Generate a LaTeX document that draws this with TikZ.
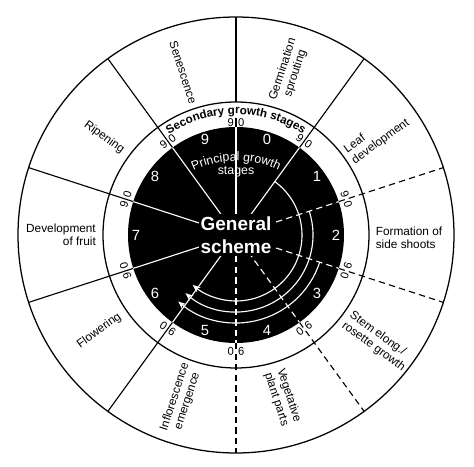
\documentclass[tikz,border=0pt]{standalone}
\usepackage{fontspec}
\setmainfont{Liberation Sans}
\usepackage{tikz}
\usetikzlibrary{shapes,arrows.meta,positioning,calc,decorations.text}

\tikzset{
  ring/.style={line width=0.9pt},
  spoke/.style={line width=0.8pt},
  gap/.style={dash pattern=on 4.5pt off 3pt},
  stagetext/.style={font=\fontsize{8.4}{9.4}\selectfont,inner sep=1pt},
  stagenum/.style={text=white,font=\fontsize{10.5}{12}\selectfont},
  subnum/.style={font=\fontsize{8}{9}\selectfont,inner sep=0pt},
  turn/.style={white,line width=0.8pt,-{Stealth[length=5.5pt,width=4.5pt]}}
}

\begin{document}
\begin{tikzpicture}[x=0.025cm,y=0.025cm]
\useasboundingbox (-236,-232) rectangle (238,235);
\fill[black] (0,0) circle (108);
\draw[ring] (0,0) circle (218);
\draw[ring] (0,0) circle (133);

\foreach \a/\s [count=\i] in {54/solid,18/gap,-18/gap,-54/gap,-90/gap,-126/solid,-162/solid,162/solid,126/solid}{
  \draw[spoke,\s] (\a:108) -- (\a:218);
  \draw[spoke,white,\s] (0,0) -- (\a:108);
  \node[subnum,rotate=\a-90] (sub\i) at (\a:116) {9\hspace{3pt}0};
}
\draw[spoke] (90:133) -- (90:218);
\draw[spoke] (90:108) -- (90:117);
\draw[spoke,white] (0,0) -- (90:108);
\node[subnum] (sub0) at (90:112.5) {9\hspace{3pt}0};

\draw[turn] (54:66) arc[start angle=54,end angle=-131,radius=66];
\draw[turn] (18:77) arc[start angle=18,end angle=-131,radius=77];
\draw[turn] (-18:88) arc[start angle=-18,end angle=-131,radius=88];

\node[fill=black,text=white,align=center,inner sep=1.5pt,
  font=\bfseries\fontsize{13.5}{16.5}\selectfont] (gen) at (0,0) {General\\scheme};

\foreach \n/\a in {0/72,1/36,2/0,3/-36,4/-72,5/-108,6/-144,7/180,8/144,9/108}
  \node[stagenum] (p\n) at (\a:100) {\n};

\path[decorate,decoration={text along path,text align=center,
  text={|\color{white}\fontsize{8.8}{10}\selectfont|Principal growth}}]
  ($(0,-27)+(122:101)$) arc[start angle=122,end angle=58,radius=101];
\node[text=white,font=\fontsize{8.8}{10}\selectfont,inner sep=0pt] (stg) at (90:63) {stages};
\path[decorate,decoration={text along path,text align=center,
  text={|\bfseries\fontsize{8.3}{10}\selectfont|Secondary growth stages}}]
  (124:121) arc[start angle=124,end angle=56,radius=121];

\node[stagetext,rotate=72,align=center] (germ) at (72:172) {Germination\\sprouting};
\node[stagetext,rotate=36,align=left] (leaf) at (35:172) {Leaf\\development};
\node[stagetext,align=left] (side) at (-1:173) {Formation of\\side shoots};
\node[stagetext,rotate=-36,align=left] (stem) at (-37:177) {Stem elong./\\rosette growth};
\node[stagetext,rotate=-72,align=left] (veg) at (-74:169) {Vegetative\\plant parts};
\node[stagetext,rotate=72,align=center] (infl) at (-108.5:173) {Inflorescence\\emergence};
\node[stagetext,rotate=36] (flow) at (-145:167) {Flowering};
\node[stagetext,align=right] (fruit) at (180:175) {Development\\of fruit};
\node[stagetext,rotate=-36] (ripe) at (143.5:164) {Ripening};
\node[stagetext,rotate=-72] (sen) at (108:171) {Senescence};
\end{tikzpicture}
\end{document}
